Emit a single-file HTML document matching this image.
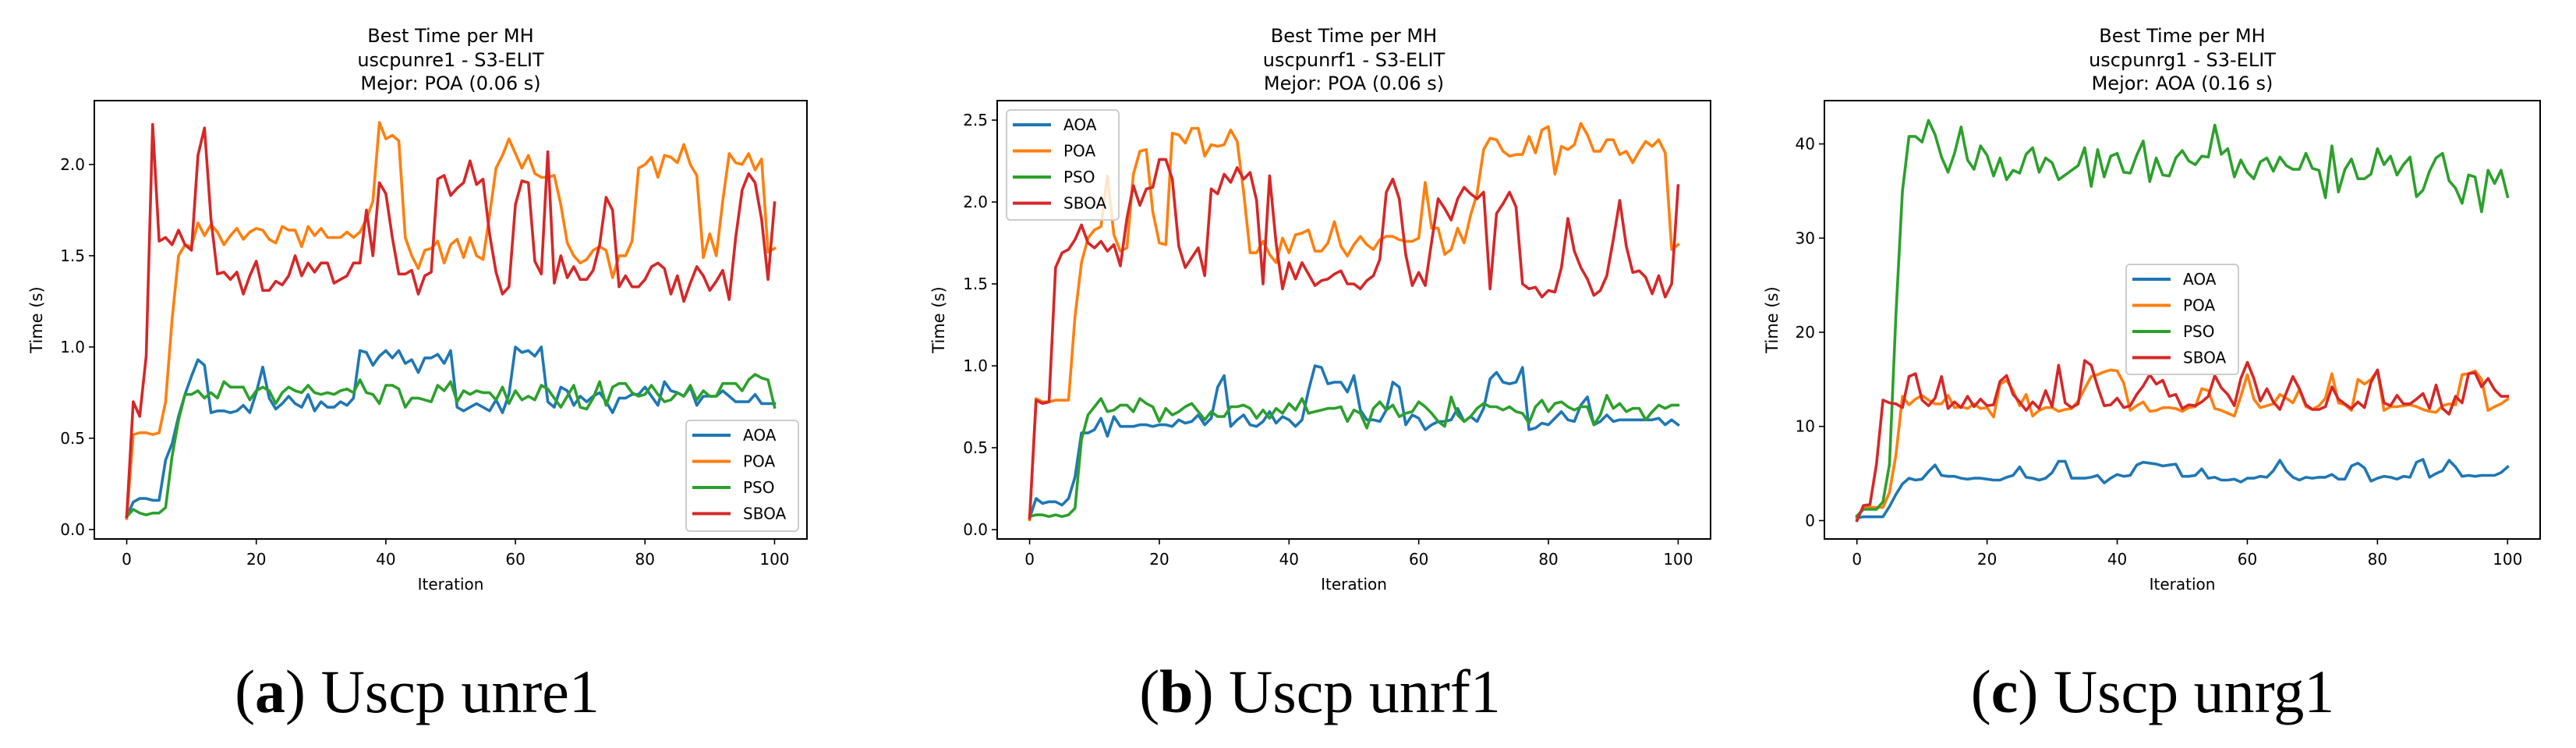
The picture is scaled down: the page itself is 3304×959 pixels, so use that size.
<!DOCTYPE html>
<html><head><meta charset="utf-8"><style>
html,body{margin:0;padding:0;background:#fff;}
svg{display:block;}
text{font-family:"DejaVu Sans","Liberation Sans",sans-serif;fill:#000;}
.cap{font-family:"Liberation Serif",serif;}
</style></head><body>
<svg id="fig" width="3304" height="959" viewBox="0 0 3304 959" xmlns="http://www.w3.org/2000/svg"></svg>
<script>
// ---- data ----
const seriesNames = ["AOA","POA","PSO","SBOA"];
const xTicks = [0,20,40,60,80,100];
const yTicksA = [0.0,0.5,1.0,1.5,2.0];
const yTicksB = [0.0,0.5,1.0,1.5,2.0,2.5];
const yTicksC = [0,10,20,30,40];
const yTickLabelsA = ["0.0","0.5","1.0","1.5","2.0"];
const yTickLabelsB = ["0.0","0.5","1.0","1.5","2.0","2.5"];
const yTickLabelsC = ["0","10","20","30","40"];

const aoaA = [0.07,0.15,0.17,0.17,0.16,0.16,0.38,0.47,0.62,0.74,0.84,0.93,0.9,0.64,0.65,0.65,0.64,0.65,0.68,0.64,0.75,0.89,0.72,0.66,0.69,0.73,0.69,0.67,0.74,0.65,0.7,0.67,0.67,0.7,0.68,0.72,0.98,0.97,0.9,0.95,0.98,0.94,0.98,0.91,0.93,0.86,0.94,0.94,0.96,0.91,0.98,0.67,0.65,0.67,0.69,0.67,0.65,0.71,0.64,0.74,1.0,0.97,0.98,0.95,1.0,0.7,0.67,0.78,0.76,0.68,0.73,0.7,0.73,0.75,0.7,0.64,0.72,0.72,0.74,0.74,0.78,0.73,0.68,0.81,0.76,0.75,0.73,0.78,0.68,0.73,0.73,0.73,0.76,0.73,0.7,0.7,0.7,0.74,0.69,0.69,0.69];
const poaA = [0.06,0.52,0.53,0.53,0.52,0.53,0.7,1.15,1.5,1.56,1.55,1.68,1.61,1.67,1.63,1.56,1.61,1.65,1.59,1.63,1.65,1.64,1.59,1.57,1.66,1.64,1.64,1.55,1.66,1.61,1.65,1.6,1.6,1.6,1.63,1.6,1.63,1.7,1.8,2.23,2.14,2.16,2.13,1.6,1.5,1.43,1.53,1.54,1.58,1.46,1.56,1.59,1.49,1.6,1.5,1.48,1.72,1.98,2.05,2.14,2.06,1.98,2.05,1.95,1.93,1.93,1.94,1.78,1.57,1.5,1.46,1.48,1.53,1.55,1.53,1.38,1.5,1.5,1.58,1.98,2.0,2.04,1.93,2.05,2.04,2.01,2.11,2.0,1.94,1.49,1.62,1.5,1.8,2.06,2.01,2.0,2.06,1.97,2.03,1.52,1.54];
const psoA = [0.07,0.11,0.09,0.08,0.09,0.09,0.12,0.4,0.6,0.74,0.74,0.76,0.72,0.75,0.72,0.81,0.78,0.78,0.78,0.71,0.76,0.78,0.76,0.69,0.75,0.78,0.76,0.75,0.79,0.75,0.74,0.75,0.74,0.76,0.77,0.75,0.82,0.75,0.74,0.69,0.79,0.79,0.77,0.67,0.72,0.72,0.71,0.7,0.79,0.76,0.81,0.7,0.76,0.74,0.76,0.75,0.75,0.71,0.78,0.69,0.76,0.71,0.73,0.71,0.79,0.77,0.72,0.67,0.73,0.79,0.67,0.66,0.72,0.81,0.68,0.78,0.8,0.8,0.75,0.73,0.74,0.79,0.74,0.7,0.71,0.75,0.73,0.79,0.71,0.76,0.73,0.73,0.8,0.8,0.8,0.76,0.82,0.85,0.83,0.82,0.67];
const sboaA = [0.07,0.7,0.62,0.95,2.22,1.58,1.6,1.56,1.64,1.56,1.53,2.05,2.2,1.7,1.4,1.41,1.37,1.41,1.29,1.39,1.47,1.31,1.31,1.36,1.34,1.39,1.5,1.39,1.46,1.41,1.46,1.46,1.35,1.37,1.39,1.46,1.46,1.75,1.5,1.9,1.84,1.6,1.4,1.4,1.42,1.29,1.39,1.41,1.92,1.94,1.83,1.87,1.9,2.02,1.89,1.92,1.62,1.41,1.29,1.33,1.78,1.91,1.9,1.47,1.4,2.07,1.35,1.5,1.38,1.44,1.37,1.37,1.42,1.56,1.82,1.75,1.33,1.39,1.33,1.33,1.37,1.44,1.46,1.43,1.29,1.39,1.25,1.35,1.44,1.39,1.31,1.36,1.42,1.26,1.6,1.86,1.95,1.9,1.7,1.37,1.79];

const aoaB = [0.07,0.19,0.16,0.17,0.17,0.15,0.19,0.32,0.59,0.59,0.61,0.68,0.57,0.69,0.63,0.63,0.63,0.64,0.64,0.63,0.64,0.64,0.63,0.67,0.65,0.66,0.7,0.64,0.68,0.87,0.94,0.63,0.67,0.7,0.64,0.63,0.66,0.72,0.65,0.69,0.67,0.63,0.67,0.85,1.0,0.99,0.89,0.9,0.9,0.84,0.94,0.73,0.67,0.67,0.66,0.73,0.9,0.87,0.64,0.7,0.68,0.61,0.64,0.66,0.66,0.67,0.74,0.66,0.69,0.66,0.74,0.92,0.96,0.9,0.89,0.9,0.99,0.61,0.62,0.65,0.64,0.68,0.72,0.67,0.66,0.76,0.81,0.64,0.66,0.7,0.66,0.67,0.67,0.67,0.67,0.67,0.67,0.68,0.64,0.67,0.64];
const poaB = [0.06,0.8,0.78,0.78,0.79,0.79,0.79,1.3,1.63,1.78,1.83,1.85,2.16,1.8,1.7,1.72,2.17,2.31,2.32,1.94,1.75,1.74,2.42,2.41,2.36,2.45,2.45,2.28,2.35,2.34,2.35,2.44,2.37,2.06,1.69,1.69,1.76,1.68,1.63,1.78,1.69,1.8,1.81,1.83,1.7,1.7,1.75,1.88,1.73,1.67,1.74,1.79,1.74,1.71,1.77,1.79,1.79,1.77,1.76,1.76,1.78,2.12,1.84,1.84,1.68,1.71,1.84,1.75,1.92,2.05,2.32,2.39,2.38,2.31,2.28,2.29,2.29,2.4,2.3,2.44,2.46,2.17,2.34,2.32,2.35,2.48,2.41,2.31,2.31,2.38,2.38,2.29,2.31,2.24,2.31,2.37,2.34,2.38,2.3,1.71,1.74];
const psoB = [0.08,0.09,0.09,0.08,0.09,0.08,0.09,0.13,0.55,0.7,0.75,0.8,0.72,0.73,0.76,0.76,0.72,0.8,0.77,0.75,0.66,0.74,0.7,0.72,0.75,0.77,0.72,0.67,0.72,0.69,0.69,0.75,0.75,0.76,0.74,0.68,0.73,0.68,0.74,0.71,0.77,0.73,0.8,0.71,0.72,0.73,0.74,0.74,0.75,0.66,0.73,0.71,0.62,0.74,0.78,0.73,0.76,0.69,0.71,0.72,0.78,0.75,0.71,0.66,0.63,0.81,0.7,0.66,0.69,0.74,0.77,0.75,0.75,0.73,0.75,0.72,0.71,0.65,0.75,0.79,0.72,0.77,0.78,0.75,0.73,0.75,0.75,0.64,0.7,0.82,0.74,0.77,0.72,0.74,0.74,0.67,0.72,0.76,0.74,0.76,0.76];
const sboaB = [0.07,0.79,0.77,0.78,1.6,1.69,1.71,1.77,1.86,1.75,1.72,1.76,1.7,1.74,1.61,1.9,2.1,1.98,2.08,2.09,2.26,2.26,2.14,1.73,1.6,1.66,1.72,1.55,2.08,2.05,2.17,2.12,2.21,2.14,2.18,2.01,1.5,2.16,1.75,1.47,1.63,1.53,1.63,1.56,1.49,1.52,1.53,1.56,1.58,1.5,1.5,1.47,1.52,1.55,1.65,2.06,2.14,2.02,1.68,1.49,1.57,1.49,1.76,2.02,1.96,1.89,2.02,2.09,2.05,2.02,2.06,1.47,1.93,1.99,2.06,1.97,1.5,1.47,1.48,1.42,1.46,1.45,1.6,1.9,1.7,1.6,1.53,1.43,1.46,1.55,1.77,2.01,1.73,1.57,1.58,1.54,1.44,1.55,1.42,1.5,2.1];

const aoaC = [0.3,0.4,0.4,0.4,0.4,1.5,2.8,3.9,4.5,4.3,4.4,5.2,5.9,4.8,4.7,4.7,4.5,4.4,4.5,4.5,4.4,4.3,4.3,4.6,4.8,5.7,4.6,4.5,4.3,4.5,5.1,6.3,6.3,4.5,4.5,4.5,4.6,4.8,4.0,4.5,4.9,4.7,4.8,5.9,6.2,6.1,6.0,5.8,5.9,6.0,4.7,4.7,4.8,5.5,4.5,4.6,4.3,4.3,4.4,4.1,4.5,4.5,4.7,4.6,5.3,6.4,5.3,4.6,4.3,4.6,4.5,4.6,4.6,4.9,4.4,4.4,5.8,6.1,5.6,4.2,4.5,4.7,4.6,4.4,4.7,4.6,6.2,6.5,4.6,5.0,5.3,6.4,5.7,4.7,4.8,4.7,4.8,4.8,4.8,5.1,5.7];
const poaC = [0.3,1.4,1.4,1.4,1.4,3,7,13.2,12.3,12.9,13.3,12.8,12.4,12.4,13.3,12,12.1,11.9,12.4,11.9,12,11,14.5,14.9,13.8,12.2,13.4,11.1,11.7,12,12,11.6,11.8,11.9,12.7,14,15.3,15.5,15.8,16,15.9,14.6,11.7,12.2,12.6,11.6,11.7,12,12,11.9,11.6,12,12.1,14,13.8,11.9,11.7,11.4,11.1,13.2,15.5,12.9,12,12.2,12.4,13.4,13,12.5,13.9,12.1,11.8,12.2,13,15.6,12.5,12.3,11.7,15,14.5,15,15.9,11.7,12.1,12.1,12.2,12.3,12.1,11.8,11.6,11.5,12.2,12.4,12.3,15.5,15.6,15.9,15,11.7,12.1,12.4,12.9];
const psoC = [0.5,1.2,1.2,1.2,2,6,22,35,40.8,40.8,40.2,42.5,41,38.6,37,39,41.8,38.3,37.3,39.8,38.8,36.6,38.5,36.2,37.2,36.9,38.9,39.6,37,38.5,38,36.2,36.7,37.2,37.7,39.6,35.5,39.4,36.5,38.7,39,37,36.9,38.8,40.3,36,38.5,36.7,36.6,38.5,39.3,38.2,37.8,38.7,38.6,42,38.9,39.5,36.5,38.3,37,36.3,38.1,38.5,37.1,38.6,37.7,37.3,37.3,39,37.4,37.2,34.3,39.8,34.9,37.3,38.4,36.3,36.3,36.8,39.5,37.8,38.7,36.7,37.8,38.6,34.4,35.1,37.1,38.5,39,36.1,35.3,33.7,36.7,36.5,32.8,37.2,35.8,37.2,34.4];
const sboaC = [0,1.6,1.7,6,12.8,12.5,12.4,12,15.3,15.6,12.8,12.2,13,15.3,11.9,12.6,12,13.2,12.1,12.9,12.2,12.3,14.8,15.4,13.4,12.6,11.7,12.6,11.9,13.8,12.1,16.5,12.5,12,12.4,17,16.5,14.2,12.2,12.3,13,12,12.2,13.4,14.3,15.5,14.5,14.9,13.2,13.4,11.9,12.3,12.2,12.6,13.2,15.4,14.1,13.4,12.2,15.1,16.8,15.1,12.7,14,12.6,11.8,13.6,15.3,14,12.3,11.8,11.8,12.1,14.2,12.9,12.4,11.9,12.6,12,14.7,16,12.5,12.2,13.3,12.4,12.4,12.9,13.5,11.9,14.4,11.9,11.3,13.2,12.5,15.6,15.7,14.2,15.1,13.9,13.2,13.2];

// ---- drawing ----
const NS = "http://www.w3.org/2000/svg";
const svg = document.getElementById("fig");
const colors = ["#1f77b4","#ff7f0e","#2ca02c","#d62728"];
function mk(tag, attrs, parent){
  const e = document.createElementNS(NS, tag);
  for (const k in attrs) e.setAttribute(k, attrs[k]);
  (parent||svg).appendChild(e);
  return e;
}

const panels = [
  {key:"a", left:121, right:1035, top:129, bottom:691, ymin:-0.052, ymax:2.35, yticks:yTicksA, ylabels:yTickLabelsA,
   data:[aoaA,poaA,psoA,sboaA], title2:"uscpunre1 - S3-ELIT", title3:"Mejor: POA (0.06 s)", ylabX:48,
   leg:{x:880,y:539,w:144,h:142}, capX:535, capLetter:"a", capRest:" Uscp unre1"},
  {key:"b", left:1279, right:2194, top:129, bottom:691, ymin:-0.057, ymax:2.619, yticks:yTicksB, ylabels:yTickLabelsB,
   data:[aoaB,poaB,psoB,sboaB], title2:"uscpunrf1 - S3-ELIT", title3:"Mejor: POA (0.06 s)", ylabX:1205,
   leg:{x:1291,y:141,w:144,h:141}, capX:1693, capLetter:"b", capRest:" Uscp unrf1"},
  {key:"c", left:2340, right:3258, top:129, bottom:691, ymin:-1.95, ymax:44.6, yticks:yTicksC, ylabels:yTickLabelsC,
   data:[aoaC,poaC,psoC,sboaC], title2:"uscpunrg1 - S3-ELIT", title3:"Mejor: AOA (0.16 s)", ylabX:2274,
   leg:{x:2727,y:339,w:144,h:141}, capX:2761, capLetter:"c", capRest:" Uscp unrg1"}
];

panels.forEach(p => {
  const g = mk("g", {});
  
  
  const xs = v => p.left + (v + 5) / 110 * (p.right - p.left);
  const ys = v => p.bottom - (v - p.ymin) / (p.ymax - p.ymin) * (p.bottom - p.top);
  const cx = (p.left + p.right) / 2;

  // title
  [["Best Time per MH",54],[p.title2,85],[p.title3,115]].forEach((t,i) => {
    const tt = mk("text", {x:cx, y:t[1], "text-anchor":"middle", "font-size":"24"}, g);
    tt.textContent = t[0];
    
    
  });

  // series
  p.data.forEach((arr, si) => {
    const pts = arr.map((v,i) => xs(i).toFixed(1) + "," + ys(v).toFixed(1)).join(" ");
    const pl = mk("polyline", {points:pts, fill:"none", stroke:colors[si], "stroke-width":"3.6", "stroke-linejoin":"round", "stroke-linecap":"square"}, g);
    
    
  });

  // frame
  const fr = mk("rect", {x:p.left, y:p.top, width:p.right-p.left, height:p.bottom-p.top, fill:"none", stroke:"#000", "stroke-width":"2"}, g);
  
  

  // x ticks
  xTicks.forEach(t => {
    const x = xs(t);
    mk("line", {x1:x, y1:p.bottom, x2:x, y2:p.bottom+7, stroke:"#000", "stroke-width":"1.6"}, g);
    const tl = mk("text", {x:x, y:p.bottom+33, "text-anchor":"middle", "font-size":"20"}, g);
    tl.textContent = String(t);
    
    
  });
  // y ticks
  p.yticks.forEach((t,i) => {
    const y = ys(t);
    mk("line", {x1:p.left-7, y1:y, x2:p.left, y2:y, stroke:"#000", "stroke-width":"1.6"}, g);
    const tl = mk("text", {x:p.left-12, y:y+7, "text-anchor":"end", "font-size":"20"}, g);
    tl.textContent = p.ylabels[i];
    
    
  });
  const xl = mk("text", {x:cx, y:756, "text-anchor":"middle", "font-size":"20"}, g);
  xl.textContent = "Iteration";
  
  
  const yl = mk("text", {x:p.ylabX, y:410, "text-anchor":"middle", "font-size":"21", transform:"rotate(-90 " + p.ylabX + " 410)", "dominant-baseline":"middle"}, g);
  yl.textContent = "Time (s)";
  
  

  // legend
  const lg = mk("g", {}, g);
  
  
  mk("rect", {x:p.leg.x, y:p.leg.y, width:p.leg.w, height:p.leg.h, rx:5, fill:"#fff", "fill-opacity":"0.8", stroke:"#cccccc", "stroke-width":"2"}, lg);
  seriesNames.forEach((n, si) => {
    const ey = p.leg.y + 19 + si * 33.5;
    const ent = mk("g", {}, lg);
    
    
    mk("line", {x1:p.leg.x+8, y1:ey, x2:p.leg.x+57, y2:ey, stroke:colors[si], "stroke-width":"4"}, ent);
    const t = mk("text", {x:p.leg.x+73, y:ey+7, "font-size":"20"}, ent);
    t.textContent = n;
  });

  // caption
  const cap = mk("text", {x:p.capX, y:913, "text-anchor":"middle", "font-size":"78", class:"cap", fill:"#222"}, g);
  
  
  const s1 = mk("tspan", {}, cap); s1.textContent = "(";
  const s2 = mk("tspan", {"font-weight":"bold"}, cap); s2.textContent = p.capLetter;
  const s3 = mk("tspan", {}, cap); s3.textContent = ")" + p.capRest;
});
</script>
</body></html>
